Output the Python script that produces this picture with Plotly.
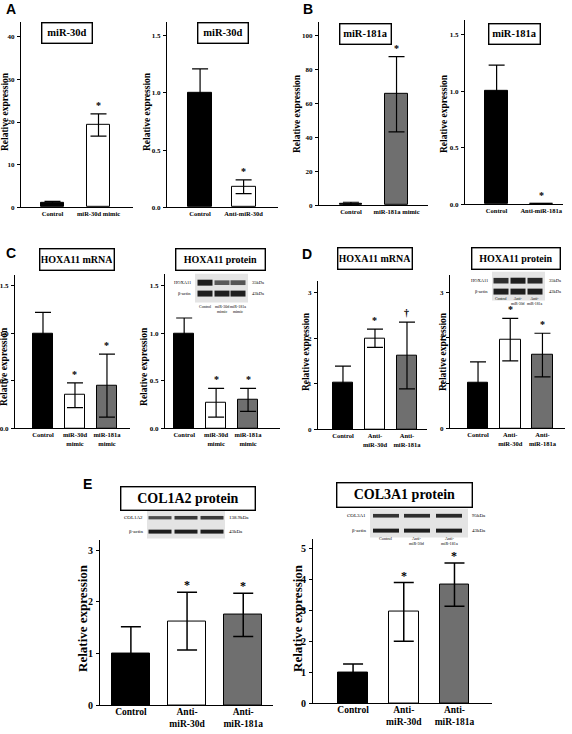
import plotly.graph_objects as go

W, H = 572, 734
SERIF = "Liberation Serif"
BLACK, WHITE, GRAY = "#000000", "#ffffff", "#6f6f6f"

# ---------------- data ----------------
a1_cats = ["Control", "miR-30d mimic"]
a1_vals = [1.0, 19.3]
a1_errs = [0.4, 2.6]
a1_marks = ["", "*"]

a2_cats = ["Control", "Anti-miR-30d"]
a2_vals = [1.0, 0.18]
a2_errs = [0.21, 0.06]
a2_marks = ["", "*"]

b1_cats = ["Control", "miR-181a mimic"]
b1_vals = [1.0, 65.5]
b1_errs = [0.8, 22.2]
b1_marks = ["", "*"]

b2_cats = ["Control", "Anti-miR-181a"]
b2_vals = [1.0, 0.005]
b2_errs = [0.23, 0.0]
b2_marks = ["", "*"]

c_cats = ["Control", "miR-30d<br>mimic", "miR-181a<br>mimic"]
c1_vals = [1.0, 0.35, 0.45]
c1_errs = [0.22, 0.13, 0.33]
c1_marks = ["", "*", "*"]
c2_vals = [1.0, 0.27, 0.30]
c2_errs = [0.16, 0.15, 0.12]
c2_marks = ["", "*", "*"]

d_cats = ["Control", "Anti-<br>miR-30d", "Anti-<br>miR-181a"]
d1_vals = [1.02, 2.0, 1.62]
d1_errs = [0.37, 0.20, 0.73]
d1_marks = ["", "*", "†"]
d2_vals = [1.0, 1.96, 1.62]
d2_errs = [0.47, 0.47, 0.48]
d2_marks = ["", "*", "*"]

e1_vals = [1.0, 1.63, 1.75]
e1_errs = [0.52, 0.56, 0.42]
e1_marks = ["", "*", "*"]
e2_vals = [1.0, 2.95, 3.83]
e2_errs = [0.27, 0.95, 0.70]
e2_marks = ["", "*", "*"]

ticks_a1 = [0, 10, 20, 30, 40]
ticks_b1 = [0, 20, 40, 60, 80, 100]
ticks_frac = [0.0, 0.5, 1.0, 1.5]
ticks_d = [0, 1, 2, 3]
ticks_e2 = [0, 1, 2, 3, 4, 5]

# ---------------- helpers ----------------
def xp(px):
    return px / W

def yp(px):
    return 1 - px / H

fig = go.Figure()
annotations = []
shapes = []


def add_panel(i, cats, vals, errs, marks, colors, xpx, ypx, xr, ymax, tickvals,
              ticktext, bw, fs, xfs, title, title_box, ylab_pos, ylab_fs, cap,
              thick, mark_fs, xstand=0, mshift=1):
    xa = "x" if i == 1 else f"x{i}"
    ya = "y" if i == 1 else f"y{i}"
    fig.add_trace(go.Bar(
        x=cats, y=vals, width=bw, xaxis=xa, yaxis=ya,
        marker=dict(color=colors, line=dict(color="black", width=1)),
        error_y=dict(type="data", array=errs, visible=True, color="black",
                     thickness=thick, width=cap),
        showlegend=False, hoverinfo="skip"))
    for c, v, e, m in zip(cats, vals, errs, marks):
        if m:
            annotations.append(dict(
                x=c, y=v + e, xref=xa, yref=ya, text=m, showarrow=False,
                yanchor="bottom", yshift=mshift if m == "*" else 2,
                font=dict(family=SERIF, size=mark_fs, color="black", weight="bold")))
    key = "" if i == 1 else str(i)
    fig.layout["xaxis" + key] = dict(
        domain=[xp(xpx[0]), xp(xpx[1])], anchor=ya, range=xr, showline=True,
        linecolor="black", linewidth=1.2, ticks="", showgrid=False, zeroline=False,
        ticklabelstandoff=xstand,
        tickfont=dict(family=SERIF, size=xfs, color="black", weight="bold"),
        fixedrange=True)
    fig.layout["yaxis" + key] = dict(
        domain=[yp(ypx[1]), yp(ypx[0])], anchor=xa, range=[0, ymax],
        showline=True, linecolor="black", linewidth=1.2, ticks="outside",
        ticklen=3, tickwidth=1.2, tickcolor="black", tickvals=tickvals,
        ticktext=ticktext, showgrid=False, zeroline=False, ticklabelstandoff=1,
        tickfont=dict(family=SERIF, size=fs, color="black", weight="bold"),
        fixedrange=True)
    # title box
    tx, ty, tw, th, tfs = title_box
    annotations.append(dict(
        x=xp(tx), y=yp(ty), xref="paper", yref="paper", text=title,
        showarrow=False, xanchor="center", yanchor="middle", width=tw,
        height=th, bordercolor="black", borderwidth=1.4, borderpad=1,
        bgcolor="white",
        font=dict(family=SERIF, size=tfs, color="black", weight="bold")))
    # y label
    annotations.append(dict(
        x=xp(ylab_pos[0]), y=yp(ylab_pos[1]), xref="paper", yref="paper",
        text="Relative expression", textangle=-90, showarrow=False,
        xanchor="center", yanchor="middle",
        font=dict(family=SERIF, size=ylab_fs, color="black", weight="bold")))


def fmt1(v):
    return [f"{t:.1f}" for t in v]


def fmt0(v):
    return [str(t) for t in v]


small = dict(fs=7, ylab_fs=9.5, cap=8, thick=1.2, mark_fs=10)

add_panel(1, a1_cats, a1_vals, a1_errs, a1_marks, [BLACK, WHITE],
          (21, 133), (22, 209), [-0.685, 1.75], 43.5, ticks_a1, fmt0(ticks_a1),
          0.52, xfs=6.5, title="miR-30d", title_box=(67, 33.5, 47, 17, 10.5),
          ylab_pos=(5, 113), **small)
add_panel(2, a2_cats, a2_vals, a2_errs, a2_marks, [BLACK, WHITE],
          (167, 278), (22, 209), [-0.76, 1.79], 1.621, ticks_frac,
          fmt1(ticks_frac), 0.55, xfs=6.5, title="miR-30d",
          title_box=(223, 33.5, 47, 17, 10.5), ylab_pos=(147, 113), **small)
add_panel(3, b1_cats, b1_vals, b1_errs, b1_marks, [BLACK, GRAY],
          (319, 428), (22, 207), [-0.70, 1.69], 108.2, ticks_b1, fmt0(ticks_b1),
          0.50, xfs=6.5, title="miR-181a", title_box=(365.5, 34, 48, 17, 10.5),
          ylab_pos=(297, 115), **small)
add_panel(4, b2_cats, b2_vals, b2_errs, b2_marks, [BLACK, GRAY],
          (465, 563), (20, 206), [-0.71, 1.49], 1.63, ticks_frac,
          fmt1(ticks_frac), 0.52, xfs=6.5, title="miR-181a",
          title_box=(514.5, 34, 48, 17, 10.5), ylab_pos=(444, 115), **small)
add_panel(5, c_cats, c1_vals, c1_errs, c1_marks, [BLACK, WHITE, GRAY],
          (15, 130), (277, 432), [-0.875, 2.72], 1.615, ticks_frac,
          fmt1(ticks_frac), 0.625, xfs=6.5, title="HOXA11 mRNA",
          title_box=(77, 261.5, 71, 18, 10), ylab_pos=(4, 370), **small)
add_panel(6, c_cats, c2_vals, c2_errs, c2_marks, [BLACK, WHITE, GRAY],
          (165, 280), (276, 432), [-0.6, 3.0], 1.625, ticks_frac,
          fmt1(ticks_frac), 0.625, xfs=6.5, title="HOXA11 protein",
          title_box=(220, 262, 86, 18, 10), ylab_pos=(144, 370), **small)
add_panel(7, d_cats, d1_vals, d1_errs, d1_marks, [BLACK, WHITE, GRAY],
          (318, 427), (283, 433), [-0.78, 2.625], 3.26, ticks_d, fmt0(ticks_d),
          0.625, xfs=6.5, title="HOXA11 mRNA", title_box=(374.5, 261, 71, 18, 10),
          ylab_pos=(306, 355), **small)
add_panel(8, d_cats, d2_vals, d2_errs, d2_marks, [BLACK, WHITE, GRAY],
          (450, 565), (277, 432), [-0.87, 2.70], 3.39, ticks_d, fmt0(ticks_d),
          0.64, xfs=6.5, title="HOXA11 protein", title_box=(515.5, 261, 85, 18, 10),
          ylab_pos=(443, 355), **small)
big = dict(fs=10, ylab_fs=13, cap=10, thick=1.5, mark_fs=12, mshift=-2)
add_panel(9, d_cats, e1_vals, e1_errs, e1_marks, [BLACK, WHITE, GRAY],
          (100, 273), (544, 711), [-0.55, 2.53], 3.21, ticks_d, fmt0(ticks_d),
          0.68, xfs=9.5, xstand=-3, title="COL1A2 protein",
          title_box=(187.5, 502.5, 131, 20, 14), ylab_pos=(83, 623), **big)
add_panel(10, d_cats, e2_vals, e2_errs, e2_marks, [BLACK, WHITE, GRAY],
          (313, 492), (543, 709), [-0.79, 2.74], 5.32, ticks_e2,
          fmt0(ticks_e2), 0.59, xfs=9.5, xstand=-3, title="COL3A1 protein",
          title_box=(404, 499, 132, 21, 14), ylab_pos=(298, 623), **big)

# ---------------- panel letters ----------------
for letter, (lx, ly) in {"A": (11, 9), "B": (308, 9), "C": (11, 255),
                         "D": (307, 256), "E": (87, 488)}.items():
    annotations.append(dict(x=xp(lx), y=yp(ly), xref="paper", yref="paper",
                            text=letter, showarrow=False, xanchor="center",
                            yanchor="middle",
                            font=dict(family="Liberation Sans", size=14,
                                      color="black", weight="bold")))


# ---------------- western blot insets (decoration) ----------------
def blot(bx0, bx1, rows, lanes, lane_w, band_h, inten, left_lbls, right_lbls,
         lbl_fs, lane_lbls=None, lane_y=None, lane_fs=None):
    by0 = rows[0] - band_h - 3
    by1 = rows[-1] + band_h + 3
    shapes.append(dict(type="rect", xref="paper", yref="paper", x0=xp(bx0),
                       x1=xp(bx1), y0=yp(by1), y1=yp(by0),
                       fillcolor="#e4e4e4", line=dict(width=0), layer="above"))
    for r, ry in enumerate(rows):
        for l, lx in enumerate(lanes):
            k = inten[r][l]
            g = int(30 + (1 - k) * 110)
            h = band_h * (0.6 + 0.4 * k)
            shapes.append(dict(type="rect", xref="paper", yref="paper",
                               x0=xp(lx - lane_w / 2), x1=xp(lx + lane_w / 2),
                               y0=yp(ry + h / 2), y1=yp(ry - h / 2),
                               fillcolor=f"rgb({g},{g},{g})", line=dict(width=0),
                               layer="above"))
        annotations.append(dict(x=xp(bx0 - 2), y=yp(ry), xref="paper",
                                yref="paper", text=left_lbls[r], showarrow=False,
                                xanchor="right", yanchor="middle",
                                font=dict(family=SERIF, size=lbl_fs, color="black")))
        annotations.append(dict(x=xp(bx1 + 2), y=yp(ry), xref="paper",
                                yref="paper", text=right_lbls[r], showarrow=False,
                                xanchor="left", yanchor="middle",
                                font=dict(family=SERIF, size=lbl_fs, color="black")))
    if lane_lbls:
        for lx, t in zip(lanes, lane_lbls):
            annotations.append(dict(x=xp(lx), y=yp(lane_y), xref="paper",
                                    yref="paper", text=t, showarrow=False,
                                    xanchor="center", yanchor="top",
                                    font=dict(family=SERIF, size=lane_fs or lbl_fs,
                                              color="black")))


blot(195, 248, [285, 296], [205, 222, 238], 15, 6,
     [[1.0, 0.45, 0.5], [1.0, 1.0, 1.0]], ["HOXA11", "β-actin"],
     ["35kDa", "43kDa"], 4.5, ["Control", "miR-30d<br>mimic", "miR-181a<br>mimic"],
     304, 4)
blot(492, 545, [283, 294], [501, 518, 535], 15, 6,
     [[0.85, 1.0, 0.9], [1.0, 1.0, 1.0]], ["HOXA11", "β-actin"],
     ["35kDa", "43kDa"], 4.5, ["Control", "Anti-<br>miR-30d", "Anti-<br>miR-181a"],
     297, 3.8)
blot(147, 225, [522, 536], [160, 186, 212], 23, 4,
     [[0.55, 0.75, 0.75], [1.0, 1.0, 1.0]], ["COL1A2", "β-actin"],
     ["138.9kDa", "43kDa"], 5)
blot(370, 468, [520, 535], [386, 417, 449], 26, 4,
     [[0.8, 0.85, 0.9], [1.0, 1.0, 1.0]], ["COL3A1", "β-actin"],
     ["95kDa", "43kDa"], 5, ["Control", "Anti-<br>miR-30d", "Anti-<br>miR-181a"],
     538, 4.2)

fig.update_layout(width=W, height=H, margin=dict(l=0, r=0, t=0, b=0),
                  paper_bgcolor="white", plot_bgcolor="white",
                  annotations=annotations, shapes=shapes, bargap=0)
fig.write_html("out.html", config={"displayModeBar": False},
               post_script="document.body.style.margin='0';"
                           "document.body.style.overflow='hidden';")
